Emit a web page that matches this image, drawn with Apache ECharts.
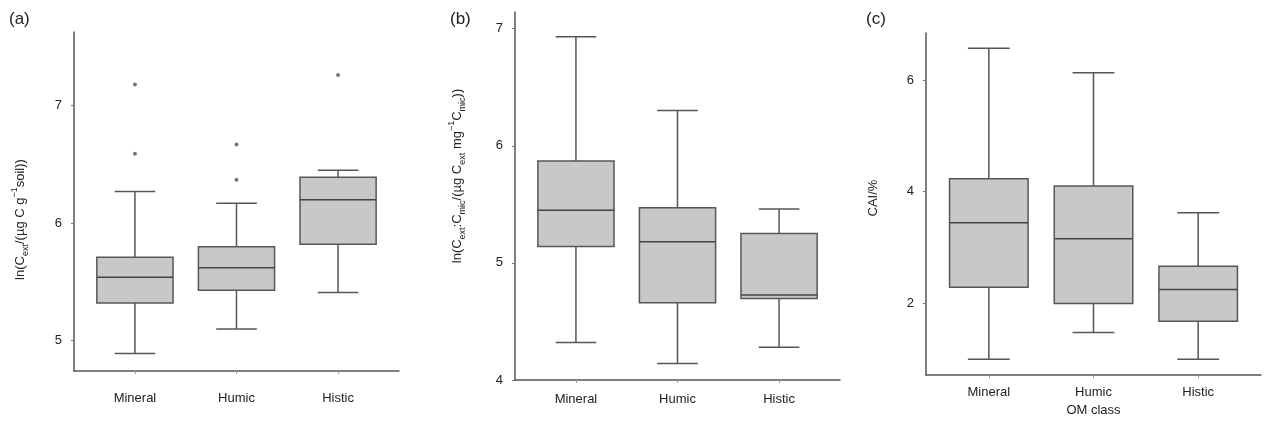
<!DOCTYPE html>
<html>
<head>
<meta charset="utf-8">
<script src="https://cdn.jsdelivr.net/npm/echarts@6/dist/echarts.min.js"></script>
<style>
  html, body { margin: 0; padding: 0; background: #fff; }
  #chart { width: 1265px; height: 422px; }
</style>
</head>
<body>
<div id="chart"></div>
<script>
const categories = ['Mineral', 'Humic', 'Histic'];

// each row: [min, Q1, median, Q3, max]
const boxA = [
  [4.89, 5.32, 5.54, 5.71, 6.27],
  [5.10, 5.43, 5.62, 5.80, 6.17],
  [5.41, 5.82, 6.20, 6.39, 6.45]
];
// [category index, value]
const outliersA = [[0, 7.18], [0, 6.59], [1, 6.67], [1, 6.37], [2, 7.26]];

const boxB = [
  [4.32, 5.14, 5.45, 5.87, 6.93],
  [4.14, 4.66, 5.18, 5.47, 6.30],
  [4.28, 4.695, 4.725, 5.25, 5.46]
];

const boxC = [
  [0.99, 2.28, 3.44, 4.23, 6.57],
  [1.47, 1.99, 3.15, 4.10, 6.13],
  [0.99, 1.67, 2.24, 2.66, 3.62]
];

const ticksA = [5, 6, 7];
const ticksB = [4, 5, 6, 7];
const ticksC = [2, 4, 6];
const catTicks = [1, 2, 3];

const FONT = '"Liberation Sans", Arial, sans-serif';
const TXT = '#222';
const EDGE = '#575757';

const chart = echarts.init(document.getElementById('chart'));

function toBoxData(rows) {
  return rows.map((r, i) => [i + 1].concat(r));
}

function renderBox(params, api) {
  const x = api.value(0);
  const lo = api.coord([x, api.value(1)]);
  const q1 = api.coord([x, api.value(2)]);
  const med = api.coord([x, api.value(3)]);
  const q3 = api.coord([x, api.value(4)]);
  const hi = api.coord([x, api.value(5)]);
  const half = api.size([0.375, 0])[0];
  const cap = api.size([0.2, 0])[0];
  const ls = { stroke: EDGE, lineWidth: 1.5, fill: null };
  return {
    type: 'group',
    children: [
      { type: 'line', shape: { x1: lo[0], y1: lo[1], x2: lo[0], y2: q1[1] }, style: ls },
      { type: 'line', shape: { x1: hi[0], y1: hi[1], x2: hi[0], y2: q3[1] }, style: ls },
      { type: 'line', shape: { x1: lo[0] - cap, y1: lo[1], x2: lo[0] + cap, y2: lo[1] }, style: ls },
      { type: 'line', shape: { x1: hi[0] - cap, y1: hi[1], x2: hi[0] + cap, y2: hi[1] }, style: ls },
      { type: 'rect', shape: { x: q3[0] - half, y: q3[1], width: half * 2, height: q1[1] - q3[1] },
        style: { fill: '#c7c8ca', stroke: EDGE, lineWidth: 1.5 } },
      { type: 'line', shape: { x1: med[0] - half, y1: med[1], x2: med[0] + half, y2: med[1] },
        style: { stroke: '#444', lineWidth: 1.5 } }
    ]
  };
}

function xAxis(idx, margin, extra) {
  return Object.assign({
    type: 'value', gridIndex: idx, min: 0.4, max: 3.6,
    splitLine: { show: false },
    axisLine: { show: true, onZero: false, lineStyle: { color: EDGE, width: 1.5 } },
    axisTick: { show: true, customValues: catTicks, length: 3, lineStyle: { color: '#999' } },
    axisLabel: { customValues: catTicks, margin: margin, color: TXT, fontSize: 13, fontFamily: FONT,
      formatter: v => categories[Math.round(v) - 1] }
  }, extra || {});
}

const richName = {
  n: { fontSize: 13, lineHeight: 20, color: TXT, fontFamily: FONT },
  sub: { fontSize: 9, verticalAlign: 'bottom', color: TXT, fontFamily: FONT },
  sup: { fontSize: 9, verticalAlign: 'top', color: TXT, fontFamily: FONT }
};

function yAxis(idx, min, max, ticks, name, gap, pad) {
  return {
    type: 'value', gridIndex: idx, min: min, max: max,
    splitLine: { show: false },
    axisLine: { show: true, lineStyle: { color: EDGE, width: 1.5 } },
    axisTick: { show: true, customValues: ticks, length: 3, lineStyle: { color: '#777' } },
    axisLabel: { customValues: ticks, margin: 12, color: TXT, fontSize: 13, fontFamily: FONT },
    name: name, nameLocation: 'middle', nameRotate: 90, nameGap: gap,
    nameTextStyle: { color: TXT, fontSize: 13, fontFamily: FONT, padding: pad, rich: richName }
  };
}

function panelLabel(text, left) {
  return { text: text, left: left, top: 11, padding: 0,
    textStyle: { fontSize: 17, fontWeight: 'normal', color: TXT, fontFamily: FONT } };
}

const nameA = '{n|ln(C}{sub|ext}{n|/(\u00b5g C g}{sup|\u22121}{n|soil))}';
const nameB = '{n|ln(C}{sub|ext}{n|:C}{sub|mic}{n|/(\u00b5g C}{sub|ext}{n| mg}{sup|\u22121}{n|C}{sub|mic}{n|))}';
const nameC = '{n|CAI/%}';

const option = {
  backgroundColor: '#fff',
  animation: false,
  title: [panelLabel('(a)', 9), panelLabel('(b)', 450), panelLabel('(c)', 866)],
  grid: [
    { left: 74, top: 32, width: 325, height: 339 },
    { left: 515, top: 12, width: 325, height: 368 },
    { left: 926, top: 33, width: 335, height: 349 }
  ],
  xAxis: [
    xAxis(0, 21),
    xAxis(1, 13),
    xAxis(2, 11, { name: 'OM class', nameLocation: 'middle', nameGap: 27,
      nameTextStyle: { color: TXT, fontSize: 13, fontFamily: FONT } })
  ],
  yAxis: [
    yAxis(0, 4.742, 7.627, ticksA, nameA, 44, [0, 36, 0, 0]),
    yAxis(1, 4, 7.142, ticksB, nameB, 48, [0, 0, 0, 40]),
    yAxis(2, 0.705, 6.844, ticksC, nameC, 43, [0, 0, 0, 12])
  ],
  series: [
    { type: 'custom', xAxisIndex: 0, yAxisIndex: 0, renderItem: renderBox,
      encode: { x: 0, y: [1, 2, 3, 4, 5] }, data: toBoxData(boxA) },
    { type: 'scatter', xAxisIndex: 0, yAxisIndex: 0, symbolSize: 4,
      itemStyle: { color: '#555' }, data: outliersA.map(o => [o[0] + 1, o[1]]) },
    { type: 'custom', xAxisIndex: 1, yAxisIndex: 1, renderItem: renderBox,
      encode: { x: 0, y: [1, 2, 3, 4, 5] }, data: toBoxData(boxB) },
    { type: 'custom', xAxisIndex: 2, yAxisIndex: 2, renderItem: renderBox,
      encode: { x: 0, y: [1, 2, 3, 4, 5] }, data: toBoxData(boxC) }
  ]
};

chart.setOption(option);
</script>
</body>
</html>
